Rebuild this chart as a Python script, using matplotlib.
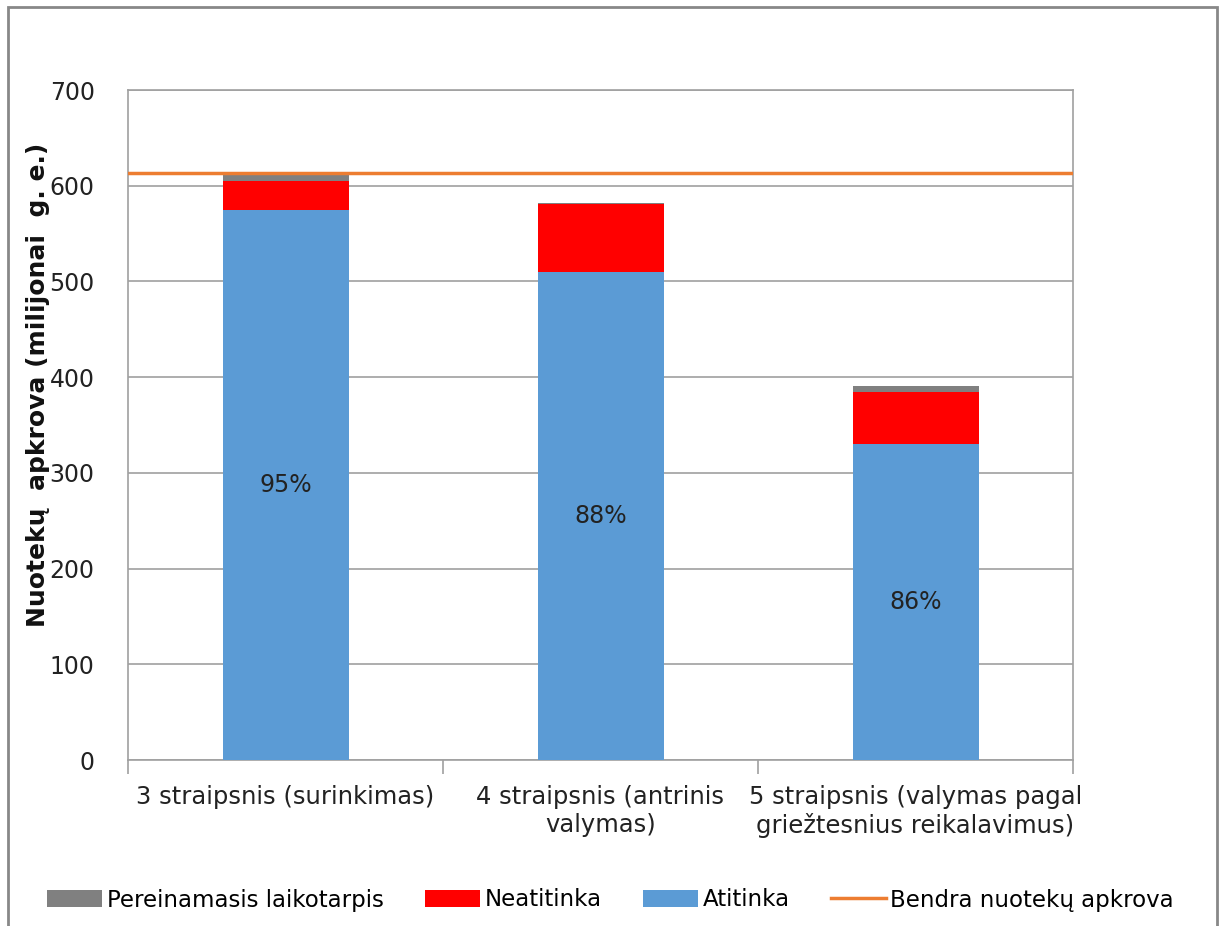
import matplotlib
matplotlib.use('Agg')
import matplotlib.pyplot as plt
from matplotlib.patches import Rectangle
import numpy as np

plt.rcParams['font.family'] = ['DejaVu Sans']

# dati (milijonai g. e.)
kategorijos = ['3 straipsnis (surinkimas)',
               '4 straipsnis (antrinis\nvalymas)',
               '5 straipsnis (valymas pagal\ngriežtesnius reikalavimus)']
atitinka = [575, 510, 330]
neatitinka = [30, 71, 55]
pereinamasis = [6, 1, 6]
procentai = ['95%', '88%', '86%']
bendra_apkrova = 613

fig = plt.figure(figsize=(12.21, 9.26), dpi=100)
ax = fig.add_axes([128/1221, 1-760/926, 945/1221, 670/926])

x = np.arange(len(kategorijos))
w = 0.4
b1 = ax.bar(x, atitinka, w, color='#5B9BD5', label='Atitinka', zorder=3)
b2 = ax.bar(x, neatitinka, w, bottom=atitinka, color='#FF0000', label='Neatitinka', zorder=3)
bottom2 = [a + n for a, n in zip(atitinka, neatitinka)]
b3 = ax.bar(x, pereinamasis, w, bottom=bottom2, color='#808080',
            label='Pereinamasis laikotarpis', zorder=3)
ln = ax.axhline(bendra_apkrova, color='#ED7D31', lw=2.5, zorder=4,
                label='Bendra nuotekų apkrova')

for xi, a, p in zip(x, atitinka, procentai):
    ax.text(xi, a/2, p, ha='center', va='center', fontsize=17, color='#222222', zorder=5)

ax.set_xlim(-0.5, 2.5)
ax.set_ylim(0, 700)
ax.set_yticks(range(0, 701, 100))
ax.yaxis.grid(True, color='#A0A0A0', lw=1.2, zorder=0)
ax.tick_params(axis='y', length=0, labelsize=17, pad=24, labelcolor='#222222')
ax.set_xticks([-0.5, 0.5, 1.5, 2.5])
ax.set_xticklabels([])
ax.tick_params(axis='x', length=10, color='#A0A0A0', width=1.2)
for xi, k in zip(x, kategorijos):
    ax.text(xi, -26, k, ha='center', va='top', fontsize=17.5, color='#222222',
            transform=ax.transData, linespacing=1.2)
for s in ax.spines.values():
    s.set_color('#A0A0A0')
    s.set_linewidth(1.2)

fig.text(38/1221, 1-385/926, 'Nuotekų  apkrova (milijonai  g. e.)', fontsize=18,
         fontweight='bold', rotation=90, ha='center', va='center', color='#111111')

fig.legend(handles=[b3, b2, b1, ln], loc='center', bbox_to_anchor=(0.5, 1-900/926),
           ncol=4, frameon=False, fontsize=16.5, handlelength=2.4, handleheight=0.8,
           columnspacing=1.8, handletextpad=0.2)

fig.patches.append(Rectangle((8/1221, -0.05), 1209/1221, 1.05 - 7/926,
                             transform=fig.transFigure, fill=False,
                             edgecolor='#888888', lw=2))

fig.savefig('out.png', dpi=100)
